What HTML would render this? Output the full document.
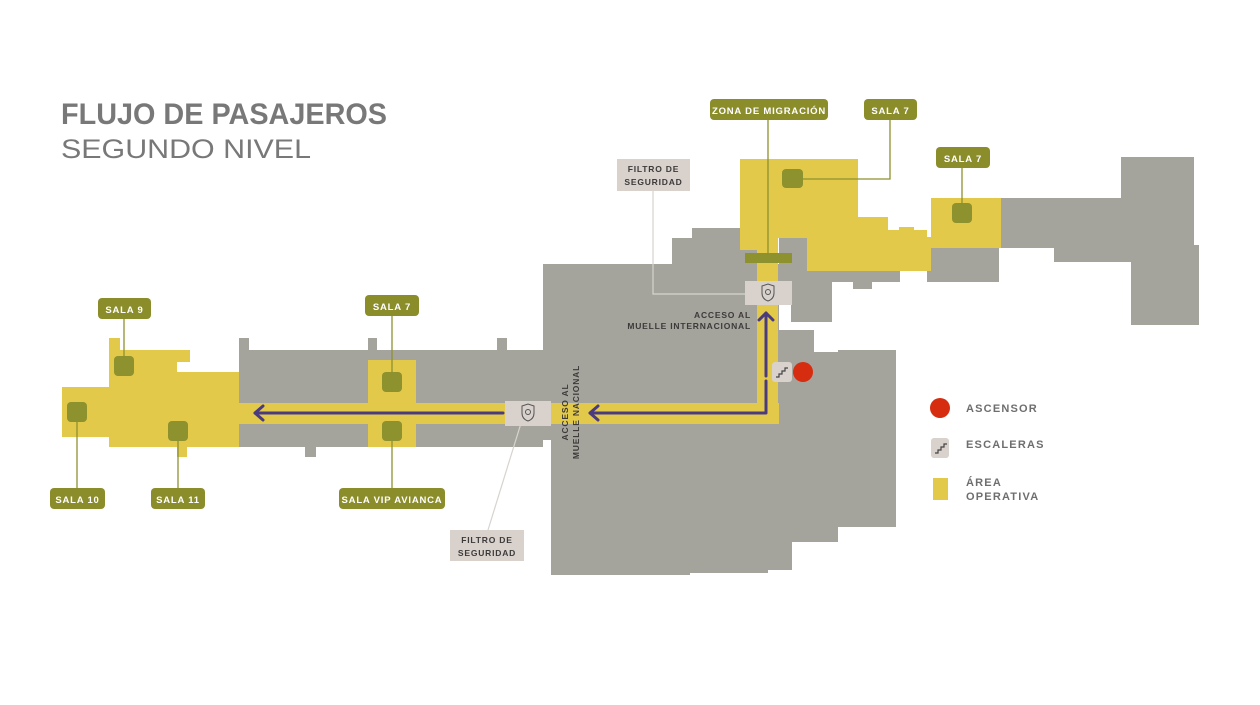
<!DOCTYPE html>
<html><head><meta charset="utf-8"><style>
html,body{margin:0;padding:0;background:#fff;width:1260px;height:705px;overflow:hidden}
svg{display:block}
.lbl{font-family:"Liberation Sans",sans-serif;font-weight:bold;font-size:9.5px;fill:#fff;letter-spacing:0.8px}
.dk{font-family:"Liberation Sans",sans-serif;font-weight:bold;font-size:8.5px;fill:#3d3a3a;letter-spacing:0.8px}
.lg{font-family:"Liberation Sans",sans-serif;font-weight:bold;font-size:11px;fill:#6e6e6e;letter-spacing:1.2px}
</style></head><body>
<svg width="1260" height="705" viewBox="0 0 1260 705" xmlns="http://www.w3.org/2000/svg">
<text x="61" y="124" font-family="Liberation Sans,sans-serif" font-weight="bold" font-size="30" fill="#787878" textLength="326" lengthAdjust="spacingAndGlyphs">FLUJO DE PASAJEROS</text>
<text x="61" y="158" font-family="Liberation Sans,sans-serif" font-size="27" fill="#787878" textLength="250" lengthAdjust="spacingAndGlyphs">SEGUNDO NIVEL</text>

<g fill="#a4a49c">
<rect x="239" y="338" width="10" height="20"/>
<rect x="239" y="350" width="304" height="97"/>
<rect x="368" y="338" width="9" height="20"/>
<rect x="497" y="338" width="10" height="20"/>
<rect x="445" y="424" width="107" height="16"/>
<rect x="305" y="440" width="11" height="17"/>
<rect x="543" y="264" width="236" height="160"/>
<rect x="551" y="400" width="241" height="170"/>
<rect x="551" y="500" width="139" height="75"/>
<rect x="690" y="500" width="78" height="73"/>
<rect x="768" y="380" width="70" height="162"/>
<rect x="838" y="350" width="58" height="177"/>
<rect x="779" y="330" width="35" height="100"/>
<rect x="814" y="352" width="54" height="60"/>
<rect x="672" y="238" width="85" height="30"/>
<rect x="692" y="228" width="65" height="15"/>
<rect x="779" y="238" width="28" height="50"/>
<rect x="791" y="282" width="41" height="40"/>
<rect x="807" y="271" width="93" height="11"/>
<rect x="853" y="270" width="19" height="19"/>
<rect x="927" y="248" width="72" height="34"/>
<rect x="999" y="198" width="122" height="50"/>
<rect x="1054" y="246" width="77" height="16"/>
<rect x="1121" y="157" width="73" height="92"/>
<rect x="1131" y="245" width="68" height="80"/>
</g>
<g fill="#e3c94a">
<rect x="62" y="387" width="177" height="50"/>
<rect x="109" y="372" width="130" height="75"/>
<rect x="109" y="350" width="81" height="12"/>
<rect x="109" y="338" width="11" height="14"/>
<rect x="109" y="360" width="68" height="14"/>
<rect x="109" y="372" width="96" height="15"/>
<rect x="177" y="445" width="10" height="12"/>
<rect x="239" y="403" width="304" height="21"/>
<rect x="368" y="360" width="48" height="87"/>
<rect x="543" y="403" width="236" height="21"/>
<rect x="757" y="238" width="21" height="186"/>
<rect x="740" y="159" width="118" height="79"/>
<rect x="740" y="230" width="17" height="20"/>
<rect x="807" y="230" width="120" height="41"/>
<rect x="858" y="217" width="30" height="20"/>
<rect x="899" y="227" width="15" height="10"/>
<rect x="931" y="198" width="70" height="50"/>
<rect x="920" y="237" width="11" height="34"/>
</g>
<g fill="#8d912e">
<rect x="114" y="356" width="20" height="20" rx="4"/>
<rect x="67" y="402" width="20" height="20" rx="4"/>
<rect x="168" y="421" width="20" height="20" rx="4"/>
<rect x="382" y="372" width="20" height="20" rx="4"/>
<rect x="382" y="421" width="20" height="20" rx="4"/>
<rect x="782" y="169" width="21" height="19" rx="4"/>
<rect x="952" y="203" width="20" height="20" rx="4"/>
<rect x="745" y="253" width="47" height="10"/>
</g>
<g stroke="#8d912e" stroke-width="1.3" fill="none">
<line x1="124" y1="318" x2="124" y2="358"/>
<line x1="77" y1="420" x2="77" y2="490"/>
<line x1="178" y1="440" x2="178" y2="490"/>
<line x1="392" y1="315" x2="392" y2="375"/>
<line x1="392" y1="440" x2="392" y2="490"/>
<line x1="768" y1="120" x2="768" y2="258"/>
<polyline points="890,120 890,179 803,179"/>
<line x1="962" y1="168" x2="962" y2="205"/>
</g>
<g stroke="#d8d3cf" stroke-width="1.2" fill="none">
<polyline points="653,191 653,294 745,294"/>
<line x1="522" y1="420" x2="488" y2="530"/>
</g>
<g fill="#8b8d2b">
<rect x="98" y="298" width="53" height="21" rx="4"/>
<rect x="50" y="488" width="55" height="21" rx="4"/>
<rect x="151" y="488" width="54" height="21" rx="4"/>
<rect x="365" y="295" width="54" height="21" rx="4"/>
<rect x="339" y="488" width="106" height="21" rx="4"/>
<rect x="710" y="99" width="118" height="21" rx="4"/>
<rect x="864" y="99" width="53" height="21" rx="4"/>
<rect x="936" y="147" width="54" height="21" rx="4"/>
</g>
<text class="lbl" x="124.5" y="313" text-anchor="middle">SALA 9</text>
<text class="lbl" x="77.5" y="503" text-anchor="middle">SALA 10</text>
<text class="lbl" x="178" y="503" text-anchor="middle">SALA 11</text>
<text class="lbl" x="392" y="310" text-anchor="middle">SALA 7</text>
<text class="lbl" x="392" y="503" text-anchor="middle">SALA VIP AVIANCA</text>
<text class="lbl" x="769" y="114" text-anchor="middle">ZONA DE MIGRACIÓN</text>
<text class="lbl" x="890.5" y="114" text-anchor="middle">SALA 7</text>
<text class="lbl" x="963" y="162" text-anchor="middle">SALA 7</text>
<rect x="617" y="159" width="73" height="32" fill="#d8d1cc"/>
<text class="dk" x="653.5" y="172" text-anchor="middle">FILTRO DE</text>
<text class="dk" x="653.5" y="185" text-anchor="middle">SEGURIDAD</text>
<rect x="450" y="530" width="74" height="31" fill="#d8d1cc"/>
<text class="dk" x="487" y="543" text-anchor="middle">FILTRO DE</text>
<text class="dk" x="487" y="556" text-anchor="middle">SEGURIDAD</text>
<rect x="745" y="281" width="47" height="24" fill="#d8d1cc"/>
<rect x="505" y="401" width="46" height="25" fill="#d8d1cc"/>
<g fill="none" stroke="#555" stroke-width="1">
<path d="M762 286 L768 284 L774 286 L774 293 Q774 299 768 301 Q762 299 762 293Z"/>
<circle cx="768" cy="292" r="2.5"/>
<path d="M522 406 L528 404 L534 406 L534 413 Q534 419 528 421 Q522 419 522 413Z"/>
<circle cx="528" cy="412" r="2.5"/>
</g>
<g stroke="#4a3a80" stroke-width="3" fill="none" stroke-linecap="round" stroke-linejoin="round">
<line x1="255" y1="413" x2="503" y2="413"/>
<polyline points="263,406 255,413 263,420"/>
<polyline points="590,413 766,413 766,381"/>
<polyline points="598,406 590,413 598,420"/>
<polyline points="766,376 766,313"/>
<polyline points="759,320 766,313 773,320"/>
</g>
<rect x="772" y="362" width="20" height="20" rx="3" fill="#d8d1cc"/>
<path d="M776 377 h3 v-3 h3 v-3 h3 v-3 h3" stroke="#444" stroke-width="1.2" fill="none"/>
<circle cx="803" cy="372" r="10" fill="#d62c0f"/>
<text class="dk" x="751" y="318" text-anchor="end">ACCESO AL</text>
<text class="dk" x="751" y="329" text-anchor="end">MUELLE INTERNACIONAL</text>
<text class="dk" transform="translate(568,412) rotate(-90)" text-anchor="middle">ACCESO AL</text>
<text class="dk" transform="translate(579,412) rotate(-90)" text-anchor="middle">MUELLE NACIONAL</text>
<circle cx="940" cy="408" r="10" fill="#d62c0f"/>
<text class="lg" x="966" y="412">ASCENSOR</text>
<rect x="931" y="438" width="18" height="20" rx="3" fill="#d8d1cc"/>
<path d="M935 453 h3 v-3 h3 v-3 h3 v-3 h3" stroke="#444" stroke-width="1.2" fill="none"/>
<text class="lg" x="966" y="448">ESCALERAS</text>
<rect x="933" y="478" width="15" height="22" fill="#e3c94a"/>
<text class="lg" x="966" y="486">ÁREA</text>
<text class="lg" x="966" y="500">OPERATIVA</text>
</svg>
</body></html>
